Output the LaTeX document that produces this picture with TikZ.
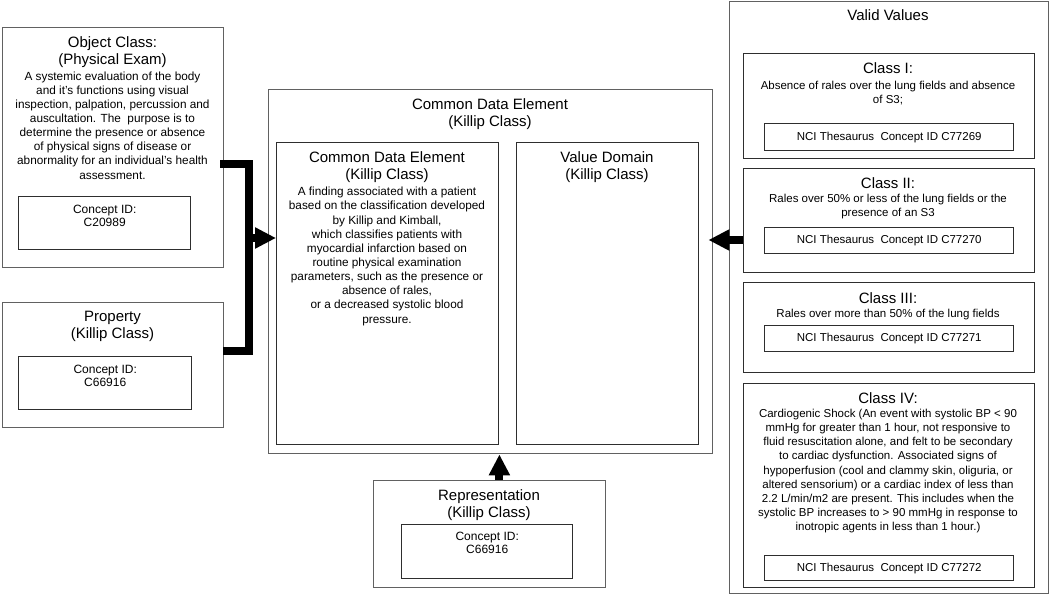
\documentclass[tikz,border=0pt]{standalone}
\usepackage{fontspec}
\setmainfont{Liberation Sans}
\usetikzlibrary{arrows.meta}
\begin{document}
\begin{tikzpicture}[x=1pt,y=-1pt,
  outerbox/.style={draw=black!62, line width=1.4pt, inner sep=0pt, anchor=north west},
  innerbox/.style={draw=black!82, line width=1.4pt, inner sep=0pt, anchor=north west},
  head/.style={anchor=north, inner sep=0pt, align=center, text=black, font=\fontsize{15}{17.3}\selectfont},
  body/.style={anchor=north, inner sep=0pt, align=center, text=black, font=\fontsize{11.8}{14.15}\selectfont},
  vbody/.style={anchor=north, inner sep=0pt, align=center, text=black, font=\fontsize{11.5}{14.2}\selectfont},
  idtxt/.style={anchor=north, inner sep=0pt, align=center, text=black, font=\fontsize{12}{13}\selectfont},
  ncibox/.style={innerbox, align=center, text=black, font=\fontsize{11.5}{13}\selectfont, minimum width=249pt},
  thick arrow/.style={line width=8pt, -{Triangle[length=21pt,width=20pt]}},
  bracket/.style={line width=8pt, line join=miter}
]
\useasboundingbox (0,0) rectangle (1050,597);

% ---------- left column ----------
\node[outerbox, minimum width=221pt, minimum height=240pt] (obj) at (2,27) {};
\node[head] (objh) at (112.5,36) {Object Class:\\(Physical Exam)};
\node[body] (objb) at (112.5,71.3) {A systemic evaluation of the body\\and it's functions using visual\\inspection, palpation, percussion and\\auscultation. The~ purpose is to\\determine the presence or absence\\of physical signs of disease or\\abnormality for an individual's health\\assessment.};
\node[innerbox, minimum width=172pt, minimum height=53pt] (objid) at (18,196) {};
\node[idtxt] (objidt) at (objid.north |- 0,205) {Concept ID:\\C20989};

\node[outerbox, minimum width=221pt, minimum height=125pt] (prop) at (2,302) {};
\node[head] (proph) at (112.5,311) {Property\\(Killip Class)};
\node[innerbox, minimum width=173pt, minimum height=53pt] (propid) at (18,356) {};
\node[idtxt] (propidt) at (propid.north |- 0,365) {Concept ID:\\C66916};

% ---------- centre ----------
\node[outerbox, minimum width=444pt, minimum height=364pt] (cde) at (268,89) {};
\node[head] (cdeh) at (490,98) {Common Data Element\\(Killip Class)};
\node[innerbox, minimum width=222pt, minimum height=302pt] (cdein) at (276,142) {};
\node[head] (cdeinh) at (387,151) {Common Data Element\\(Killip Class)};
\node[body] (cdeinb) at (387,187) {A finding associated with a patient\\based on the classification developed\\by Killip and Kimball,\\which classifies patients with\\myocardial infarction based on\\routine physical examination\\parameters, such as the presence or\\absence of rales,\\or a decreased systolic blood\\pressure.};
\node[innerbox, minimum width=182pt, minimum height=302pt] (vd) at (516,142) {};
\node[head] (vdh) at (607,151) {Value Domain\\(Killip Class)};

\node[outerbox, minimum width=232pt, minimum height=107pt] (rep) at (373,480) {};
\node[head] (reph) at (489,489) {Representation\\(Killip Class)};
\node[innerbox, minimum width=171pt, minimum height=54pt] (repid) at (401,524) {};
\node[idtxt] (repidt) at (repid.north |- 0,532) {Concept ID:\\C66916};

% ---------- valid values ----------
\node[outerbox, minimum width=319pt, minimum height=592pt] (vv) at (729,1) {};
\node[head] (vvh) at (888,9) {Valid Values};

\node[innerbox, minimum width=291pt, minimum height=105pt] (c1) at (743,53) {};
\node[head] (c1h) at (888,62) {Class I:};
\node[vbody] (c1b) at (888,80.5) {Absence of rales over the lung fields and absence\\of S3;};
\node[ncibox, minimum height=27pt] (c1id) at (764,123) {NCI Thesaurus~ Concept ID C77269};

\node[innerbox, minimum width=291pt, minimum height=104pt] (c2) at (743,168) {};
\node[head] (c2h) at (888,177) {Class II:};
\node[vbody] (c2b) at (888,193.5) {Rales over 50\% or less of the lung fields or the\\presence of an S3};
\node[ncibox, minimum height=26pt] (c2id) at (764,227) {NCI Thesaurus~ Concept ID C77270};

\node[innerbox, minimum width=291pt, minimum height=90pt] (c3) at (743,282) {};
\node[head] (c3h) at (888,292) {Class III:};
\node[vbody] (c3b) at (888,308.5) {Rales over more than 50\% of the lung fields};
\node[ncibox, minimum height=26pt] (c3id) at (764,325) {NCI Thesaurus~ Concept ID C77271};

\node[innerbox, minimum width=291pt, minimum height=204pt] (c4) at (743,383) {};
\node[head] (c4h) at (888,392) {Class IV:};
\node[vbody] (c4b) at (888,408.8) {Cardiogenic Shock (An event with systolic BP < 90\\mmHg for greater than 1 hour, not responsive to\\fluid resuscitation alone, and felt to be secondary\\to cardiac dysfunction. Associated signs of\\hypoperfusion (cool and clammy skin, oliguria, or\\altered sensorium) or a cardiac index of less than\\2.2 L/min/m2 are present. This includes when the\\systolic BP increases to > 90 mmHg in response to\\inotropic agents in less than 1 hour.)};
\node[ncibox, minimum height=25pt] (c4id) at (764,555) {NCI Thesaurus~ Concept ID C77272};

% ---------- connectors ----------
\coordinate (bk) at (249,238);
\draw[bracket] ([xshift=-4pt]obj.east |- 0,164) -- (bk |- 0,164) -- (bk |- 0,351) -- ([xshift=-1pt]prop.east |- 0,351);
\draw[thick arrow] (bk) -- (bk -| cdein.west);
\coordinate (vk) at (742,240);
\draw[thick arrow] (vk -| c2.west) -- ([xshift=-5pt]vk -| cde.east);
\draw[thick arrow] (rep.north -| cdein.east) -- (cde.south -| cdein.east);
\end{tikzpicture}
\end{document}
